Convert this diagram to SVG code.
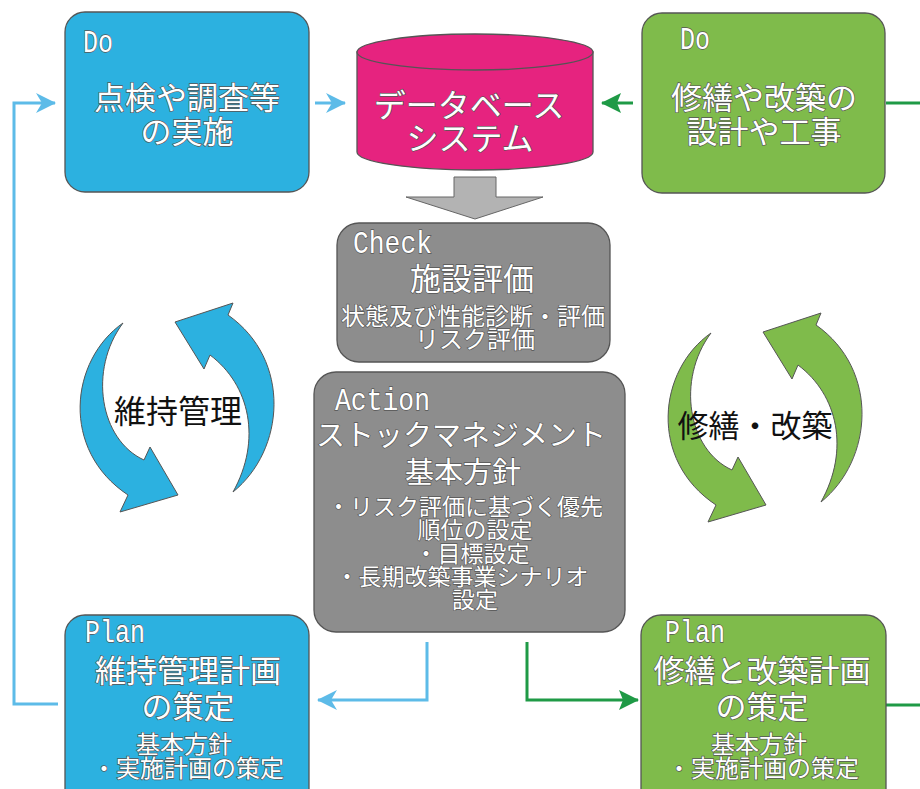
<svg xmlns="http://www.w3.org/2000/svg" width="920" height="789" viewBox="0 0 920 789">
<defs>
<style>
.box{stroke:#555;stroke-width:1.3}
.blue{fill:#2cb1e0}
.green{fill:#7fbb4b}
.gray{fill:#8d8d8d}
.wt{fill:#fff;stroke:#555;stroke-width:1.3;paint-order:stroke;font-family:"Noto Sans CJK JP","Noto Sans",sans-serif;text-anchor:middle}
.lat{fill:#fff;stroke:#555;stroke-width:1.3;paint-order:stroke;font-family:"Liberation Mono",monospace;font-size:32px}
.bk{fill:#111;font-family:"Noto Sans CJK JP","Noto Sans",sans-serif;text-anchor:middle}
.lb{fill:none;stroke:#5dbbe8;stroke-width:3}
.lg{fill:none;stroke:#1f9a46;stroke-width:3}
.cb{fill:#2cb1e0;stroke:#555;stroke-width:1}
.cg{fill:#7fbb4b;stroke:#555;stroke-width:1}
</style>
<marker id="ab" viewBox="0 0 20 20" markerWidth="20" markerHeight="20" markerUnits="userSpaceOnUse" refX="19" refY="10" orient="auto"><path d="M0,0 L20,10 L0,20 L6,10 Z" fill="#5dbbe8"/></marker>
<marker id="ag" viewBox="0 0 20 20" markerWidth="20" markerHeight="20" markerUnits="userSpaceOnUse" refX="19" refY="10" orient="auto"><path d="M0,0 L20,10 L0,20 L4,10 Z" fill="#1f9a46"/></marker>
</defs>
<rect width="920" height="789" fill="#fff"/>

<g id="connectors">
<path class="lb" d="M58,704 L14,704 L14,103 L55,103" marker-end="url(#ab)"/>
<path class="lb" d="M315,103 L345,103" marker-end="url(#ab)"/>
<path class="lg" d="M633,103 L602,103" marker-end="url(#ag)"/>
<path class="lg" d="M886,103 L920,103"/>
<path class="lb" d="M427,642 L427,700 L318,700" marker-end="url(#ab)"/>
<path class="lg" d="M527,642 L527,700 L638,700" marker-end="url(#ag)"/>
<path class="lg" d="M886,705 L920,705"/>
<polygon points="454,177 496,177 496,197 543,197 475,219 406,197 454,197" fill="#b3b3b3" stroke="#666" stroke-width="1"/>
</g>

<g id="do-inspect">
<rect class="box blue" x="65" y="12" width="244" height="180" rx="20"/>
<text class="lat" x="83" y="52" textLength="30" lengthAdjust="spacingAndGlyphs">Do</text>
<text class="wt" x="187" y="109" font-size="31">点検や調査等</text>
<text class="wt" x="187" y="143" font-size="31">の実施</text>
</g>

<g id="database">
<path d="M357,52 L357,152 A118,18 0 0 0 593,152 L593,52 Z" fill="#e6237f" stroke="#555" stroke-width="1.3"/>
<ellipse cx="475" cy="52" rx="118" ry="18" fill="#e6237f" stroke="#555" stroke-width="1.3"/>
<text class="wt" x="469" y="117" font-size="32">データベース</text>
<text class="wt" x="470" y="150" font-size="32">システム</text>
</g>

<g id="do-repair">
<rect class="box green" x="642" y="13" width="243" height="180" rx="20"/>
<text class="lat" x="680" y="49" textLength="30" lengthAdjust="spacingAndGlyphs">Do</text>
<text class="wt" x="764" y="109" font-size="31">修繕や改築の</text>
<text class="wt" x="764" y="143" font-size="31">設計や工事</text>
</g>

<g id="check">
<rect class="box gray" x="337" y="223" width="273" height="139" rx="22"/>
<text class="lat" x="353" y="253" textLength="79" lengthAdjust="spacingAndGlyphs">Check</text>
<text class="wt" x="472" y="290" font-size="31">施設評価</text>
<text class="wt" x="473" y="325" font-size="24">状態及び性能診断・評価</text>
<text class="wt" x="475" y="348" font-size="24">リスク評価</text>
</g>

<g id="action">
<rect class="box gray" x="314" y="372" width="311" height="260" rx="22"/>
<text class="lat" x="335" y="410" textLength="95" lengthAdjust="spacingAndGlyphs">Action</text>
<text class="wt" x="461" y="446" font-size="29">ストックマネジメント</text>
<text class="wt" x="463" y="483" font-size="29">基本方針</text>
<text class="wt" x="465" y="515" font-size="23">・リスク評価に基づく優先</text>
<text class="wt" x="475" y="538" font-size="23">順位の設定</text>
<text class="wt" x="472" y="562" font-size="23">・目標設定</text>
<text class="wt" x="462" y="585" font-size="23">・長期改築事業シナリオ</text>
<text class="wt" x="475" y="608" font-size="23">設定</text>
</g>

<g id="plan-maint">
<rect class="box blue" x="65" y="615" width="244" height="200" rx="20"/>
<text class="lat" x="85" y="642" textLength="60" lengthAdjust="spacingAndGlyphs">Plan</text>
<text class="wt" x="188" y="682" font-size="31">維持管理計画</text>
<text class="wt" x="188" y="718" font-size="31">の策定</text>
<text class="wt" x="184" y="753" font-size="24">基本方針</text>
<text class="wt" x="188" y="777" font-size="24">・実施計画の策定</text>
</g>

<g id="plan-repair">
<rect class="box green" x="641" y="615" width="245" height="200" rx="20"/>
<text class="lat" x="665" y="642" textLength="60" lengthAdjust="spacingAndGlyphs">Plan</text>
<text class="wt" x="762" y="682" font-size="31">修繕と改築計画</text>
<text class="wt" x="762" y="718" font-size="31">の策定</text>
<text class="wt" x="759" y="753" font-size="24">基本方針</text>
<text class="wt" x="763" y="777" font-size="24">・実施計画の策定</text>
</g>

<g id="cycle-maint">
<path class="cb" d="M123,323 C70,360 60,450 128,495 L120,512 L178,495 L150,447 L144,460 C100,440 88,370 123,323 Z"/>
<path class="cb" d="M233,492 C285,450 292,360 228,315 L233,303 L175,322 L204,369 L210,355 C250,385 262,440 233,492 Z"/>
<text class="bk" x="178" y="423" font-size="32">維持管理</text>
</g>

<g id="cycle-repair">
<g transform="translate(588,10)">
<path class="cg" d="M123,323 C70,360 60,450 128,495 L120,512 L178,495 L150,447 L144,460 C100,440 88,370 123,323 Z"/>
<path class="cg" d="M233,492 C285,450 292,360 228,315 L233,303 L175,322 L204,369 L210,355 C250,385 262,440 233,492 Z"/>
</g>
<text class="bk" x="755" y="437" font-size="31">修繕・改築</text>
</g>
</svg>
